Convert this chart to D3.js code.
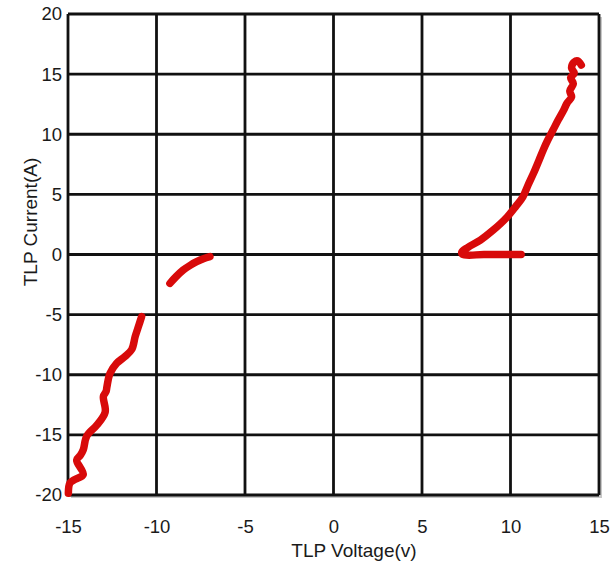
<!DOCTYPE html>
<html>
<head>
<meta charset="utf-8">
<script src="https://cdn.jsdelivr.net/npm/d3@7"></script>
<style>
  body { margin: 0; background: #fff; }
  text { font-family: "Liberation Sans", Arial, sans-serif; fill: #1a1a1a; }
</style>
</head>
<body>
<div id="chart"></div>
<script>
// ticks
let xTicks = [-15, -10, -5, 0, 5, 10, 15];
let yTicks = [-20, -15, -10, -5, 0, 5, 10, 15, 20];

// positive branch: snapback segment then rising curve (voltage, current)
let posV = [10.6, 9.5, 8.5, 7.3, 7.25, 7.6, 8.3, 9.0, 9.8, 10.3, 10.7, 11.0, 11.3, 11.6, 11.85, 12.1, 12.4, 12.7, 13.0, 13.2, 13.45, 13.35, 13.55, 13.4, 13.6, 13.45, 13.6, 13.8, 14.0];
let posI = [0, 0, 0, 0, 0.2, 0.6, 1.2, 2.0, 3.1, 4.0, 4.8, 5.8, 6.75, 7.8, 8.7, 9.5, 10.35, 11.2, 12.0, 12.6, 13.1, 13.6, 14.2, 14.7, 15.1, 15.5, 16.0, 16.1, 15.75];

// negative branch, upper piece
let negAV = [-9.24, -8.9, -8.49, -8.1, -7.73, -7.35, -6.98];
let negAI = [-2.4, -1.85, -1.29, -0.9, -0.6, -0.35, -0.18];

// negative branch, lower piece
let negBV = [-10.84, -11.0, -11.2, -11.4, -11.8, -12.25, -12.63, -12.8, -12.85, -13.0, -12.9, -13.38, -13.94, -14.14, -14.3, -14.51, -14.14, -14.6, -14.89, -14.98];
let negBI = [-5.17, -5.9, -6.8, -7.9, -8.5, -9.05, -9.9, -11.0, -11.4, -11.8, -13.1, -14.2, -15.1, -16.25, -16.7, -17.1, -18.3, -18.7, -19.0, -19.85];

const width = 612, height = 565;
const margin = {top: 14, right: 13, bottom: 70, left: 68};

let svg = d3.select("#chart").append("svg")
    .attr("width", width)
    .attr("height", height);

let x = d3.scaleLinear().domain([-15, 15]).range([margin.left, width - margin.right]);
let y = d3.scaleLinear().domain([-20, 20]).range([height - margin.bottom, margin.top]);

// faint shadow behind the frame
svg.append("rect")
    .attr("x", x(-15) + 3)
    .attr("y", y(20) + 3)
    .attr("width", x(15) - x(-15))
    .attr("height", y(-20) - y(20))
    .attr("fill", "#c8c8c8");
svg.append("rect")
    .attr("x", x(-15))
    .attr("y", y(20))
    .attr("width", x(15) - x(-15))
    .attr("height", y(-20) - y(20))
    .attr("fill", "#fff");

// grid
let grid = svg.append("g").attr("stroke", "#111").attr("stroke-width", 2.8);
grid.selectAll(".vg").data(xTicks).enter().append("line")
    .attr("x1", d => x(d)).attr("x2", d => x(d))
    .attr("y1", y(20)).attr("y2", y(-20));
grid.selectAll(".hg").data(yTicks).enter().append("line")
    .attr("x1", x(-15)).attr("x2", x(15))
    .attr("y1", d => y(d)).attr("y2", d => y(d));

// axes (labels only), plain hyphen minus like the original
let fmt = d => String(d);
let xAxis = svg.append("g")
    .attr("transform", "translate(0," + (y(-20) + 19) + ")")
    .call(d3.axisBottom(x).tickValues(xTicks).tickFormat(fmt).tickSize(0).tickPadding(6));
let yAxis = svg.append("g")
    .attr("transform", "translate(" + (x(-15) - 6) + ",0)")
    .call(d3.axisLeft(y).tickValues(yTicks).tickFormat(fmt).tickSize(0).tickPadding(0));
[xAxis, yAxis].forEach(a => {
    a.select(".domain").remove();
    a.selectAll("text").style("font-size", "18.5px").attr("fill", "#1a1a1a")
        .style("font-family", "'Liberation Sans', Arial, sans-serif");
});

// titles
svg.append("text")
    .attr("x", 354)
    .attr("y", 557)
    .attr("text-anchor", "middle")
    .style("font-size", "19px")
    .text("TLP Voltage(v)");
svg.append("text")
    .attr("transform", "translate(37,222) rotate(-90)")
    .attr("text-anchor", "middle")
    .style("font-size", "19px")
    .text("TLP Current(A)");

// curves
let line = d3.line()
    .x(d => x(d[0]))
    .y(d => y(d[1]))
    .curve(d3.curveCatmullRom);

let series = [
    d3.zip(posV, posI),
    d3.zip(negAV, negAI),
    d3.zip(negBV, negBI)
];

svg.selectAll(".trace").data(series).enter().append("path")
    .attr("class", "trace")
    .attr("d", line)
    .attr("fill", "none")
    .attr("stroke", "#d80a0a")
    .attr("stroke-width", 7.5)
    .attr("stroke-linecap", "round")
    .attr("stroke-linejoin", "round");
</script>
</body>
</html>
